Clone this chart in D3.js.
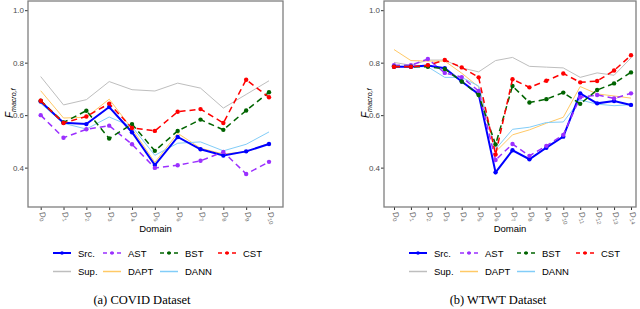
<!DOCTYPE html>
<html>
<head>
<meta charset="utf-8">
<script src="https://cdn.jsdelivr.net/npm/d3@7"></script>
<style>
  body { margin: 0; background: #fff; }
  svg { display: block; }
</style>
</head>
<body>
<script>
// categories
const domainsCovid = d3.range(11).map(i => "D" + i);
const domainsWtwt = d3.range(15).map(i => "D" + i);
const yTicks = [0.4, 0.6, 0.8, 1.0];

// COVID series
const covidSrc  = [0.652, 0.571, 0.566, 0.631, 0.535, 0.410, 0.517, 0.470, 0.446, 0.462, 0.490];
const covidAST  = [0.600, 0.514, 0.546, 0.560, 0.489, 0.399, 0.409, 0.426, 0.460, 0.376, 0.422];
const covidBST  = [0.655, 0.572, 0.617, 0.511, 0.566, 0.464, 0.540, 0.583, 0.544, 0.618, 0.687];
const covidCST  = [0.655, 0.570, 0.595, 0.644, 0.551, 0.540, 0.613, 0.623, 0.570, 0.735, 0.668];
const covidSup  = [0.747, 0.639, 0.659, 0.728, 0.697, 0.692, 0.722, 0.703, 0.627, 0.679, 0.731];
const covidDAPT = [0.693, 0.589, 0.592, 0.661, 0.548, 0.420, 0.531, 0.474, 0.452, 0.460, 0.493];
const covidDANN = [0.645, 0.569, 0.547, 0.593, 0.556, 0.447, 0.493, 0.498, 0.464, 0.489, 0.536];

// WTWT series
const wtwtSrc  = [0.784, 0.784, 0.789, 0.779, 0.728, 0.680, 0.382, 0.466, 0.432, 0.476, 0.518, 0.683, 0.645, 0.654, 0.639];
const wtwtAST  = [0.790, 0.790, 0.814, 0.761, 0.745, 0.692, 0.429, 0.490, 0.445, 0.483, 0.525, 0.668, 0.677, 0.664, 0.683];
const wtwtBST  = [0.785, 0.785, 0.784, 0.776, 0.728, 0.677, 0.488, 0.711, 0.648, 0.661, 0.686, 0.643, 0.696, 0.721, 0.763];
const wtwtCST  = [0.784, 0.784, 0.790, 0.810, 0.782, 0.744, 0.450, 0.737, 0.706, 0.731, 0.759, 0.725, 0.730, 0.770, 0.828];
const wtwtSup  = [0.801, 0.790, 0.810, 0.810, 0.780, 0.765, 0.808, 0.820, 0.786, 0.783, 0.780, 0.744, 0.761, 0.752, 0.818];
const wtwtDAPT = [0.850, 0.808, 0.806, 0.806, 0.760, 0.708, 0.460, 0.525, 0.544, 0.569, 0.592, 0.709, 0.681, 0.673, 0.665];
const wtwtDANN = [0.787, 0.785, 0.784, 0.744, 0.744, 0.711, 0.470, 0.546, 0.554, 0.572, 0.574, 0.658, 0.642, 0.636, 0.640];

const methods = ["Src.", "AST", "BST", "CST", "Sup.", "DAPT", "DANN"];

// styles per method
const styles = {
  "Src.": { color: "#0000ff", width: 2, dash: null, dots: true },
  "AST":  { color: "#9b30ff", width: 1.5, dash: "6,4", dots: true },
  "BST":  { color: "#006400", width: 1.5, dash: "6,4", dots: true },
  "CST":  { color: "#ff0000", width: 1.5, dash: "6,4", dots: true },
  "Sup.": { color: "#bebebe", width: 1, dash: null, dots: false },
  "DAPT": { color: "#ffc966", width: 1, dash: null, dots: false },
  "DANN": { color: "#82cdf8", width: 1, dash: null, dots: false }
};
const drawOrder = ["Sup.", "DAPT", "DANN", "Src.", "AST", "BST", "CST"];

const svg = d3.select("body").append("svg")
  .attr("width", 640)
  .attr("height", 309)
  .style("font-family", "Liberation Sans, Arial, sans-serif");

function panel(opts) {
  const g = svg.append("g");
  const x = d3.scalePoint().domain(opts.cats).range([opts.x0, opts.x1]);
  const y = d3.scaleLinear().domain([0.25, 1.035]).range([207, 1]);

  // y axis
  const ya = g.append("g")
    .attr("transform", `translate(${opts.left},0)`)
    .call(d3.axisLeft(y).tickValues(yTicks).tickSize(3).tickFormat(d3.format(".1f")));
  ya.select(".domain").remove();
  ya.selectAll("line").attr("stroke", "#333");
  ya.selectAll("text").attr("fill", "#4d4d4d").style("font-size", "8px").attr("x", -4);

  // x axis
  const xa = g.append("g")
    .attr("transform", "translate(0,207)")
    .call(d3.axisBottom(x).tickSize(3));
  xa.select(".domain").remove();
  xa.selectAll("line").attr("stroke", "#333");
  xa.selectAll("text").each(function(d) {
    const t = d3.select(this);
    t.text(null)
      .attr("y", 0).attr("dy", null)
      .attr("text-anchor", "start")
      .attr("transform", "translate(-2,6) rotate(70)")
      .attr("fill", "#6a6a6a")
      .style("font-size", "8px");
    t.append("tspan").style("font-style", "italic").text("D");
    t.append("tspan").attr("dy", 2).style("font-size", "5.5px").text(d.slice(1));
  });

  // lines
  const line = d3.line().x((d, i) => x(opts.cats[i])).y(d => y(d));
  drawOrder.forEach(m => {
    const s = styles[m];
    const vals = opts.series[m];
    g.append("path")
      .datum(vals)
      .attr("d", line)
      .attr("fill", "none")
      .attr("stroke", s.color)
      .attr("stroke-width", s.width)
      .attr("stroke-dasharray", s.dash);
    if (s.dots) {
      g.selectAll(null).data(vals).enter().append("circle")
        .attr("cx", (d, i) => x(opts.cats[i]))
        .attr("cy", d => y(d))
        .attr("r", 2.2)
        .attr("fill", s.color);
    }
  });

  // panel border
  g.append("rect")
    .attr("x", opts.left).attr("y", 1)
    .attr("width", opts.right - opts.left).attr("height", 206)
    .attr("fill", "none").attr("stroke", "#7f7f7f").attr("stroke-width", 1.3);

  // y label
  const yl = g.append("text")
    .attr("transform", `translate(${opts.left - 15},118) rotate(-90)`)
    .style("font-size", "10px")
    .attr("fill", "#000");
  yl.append("tspan").style("font-style", "italic").text("F");
  yl.append("tspan").attr("dy", 3).style("font-size", "7px").style("font-style", "italic").text("macro,f");

  // x label
  g.append("text")
    .attr("x", (opts.left + opts.right) / 2).attr("y", 232)
    .attr("text-anchor", "middle")
    .style("font-size", "9.5px")
    .text("Domain");

  // legend
  const rows = [methods.slice(0, 4), methods.slice(4)];
  rows.forEach((row, r) => {
    row.forEach((m, c) => {
      const s = styles[m];
      const lx = opts.legX[c];
      const ly = 253 + r * 18.5;
      g.append("line")
        .attr("x1", lx).attr("x2", lx + 18).attr("y1", ly).attr("y2", ly)
        .attr("stroke", s.color)
        .attr("stroke-width", s.dots ? s.width : 1.5)
        .attr("stroke-dasharray", s.dash ? "4,3" : null);
      if (s.dots) {
        g.append("circle").attr("cx", lx + 9).attr("cy", ly).attr("r", 1.8).attr("fill", s.color);
      }
      g.append("text")
        .attr("x", lx + 25).attr("y", ly + 3.5)
        .style("font-size", "9.5px")
        .text(m);
    });
  });

  // caption
  g.append("text")
    .attr("x", opts.capX).attr("y", 304)
    .attr("text-anchor", "middle")
    .style("font-family", "Liberation Serif, Times New Roman, serif")
    .style("font-size", "12.5px")
    .text(opts.caption);
}

panel({
  cats: domainsCovid, x0: 40.7, x1: 269, left: 28, right: 283,
  series: { "Src.": covidSrc, "AST": covidAST, "BST": covidBST, "CST": covidCST,
            "Sup.": covidSup, "DAPT": covidDAPT, "DANN": covidDANN },
  legX: [53, 103, 160, 218], capX: 142, caption: "(a) COVID Dataset"
});

panel({
  cats: domainsWtwt, x0: 394, x1: 631, left: 384, right: 636,
  series: { "Src.": wtwtSrc, "AST": wtwtAST, "BST": wtwtBST, "CST": wtwtCST,
            "Sup.": wtwtSup, "DAPT": wtwtDAPT, "DANN": wtwtDANN },
  legX: [409, 460, 517, 576], capX: 498, caption: "(b) WTWT Dataset"
});
</script>
</body>
</html>
